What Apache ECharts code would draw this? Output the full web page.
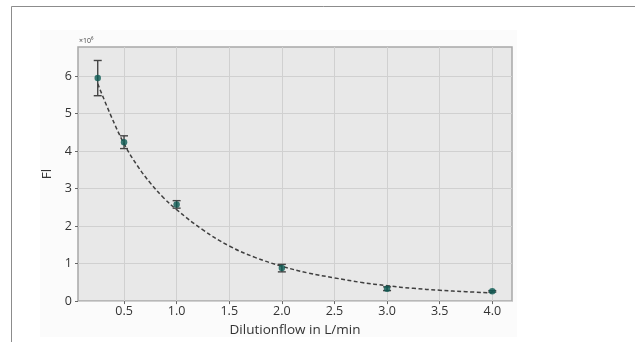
<!DOCTYPE html>
<html><head><meta charset="utf-8">
<script src="https://cdn.jsdelivr.net/npm/echarts@6/dist/echarts.min.js"></script>
<style>html,body{margin:0;padding:0;background:#fff}#c{width:635px;height:342px}</style>
</head><body><div id="c"></div>
<script>
// Measured points (x in L/min, FI in units of 1e6)
const flows = [0.25, 0.5, 1.0, 2.0, 3.0, 4.0];
const fiMean = [5.95, 4.24, 2.58, 0.88, 0.33, 0.26];
const fiErr = [0.47, 0.17, 0.10, 0.10, 0.05, 0.02];
// Fitted curve
const fitX = [0.25, 0.375, 0.5, 0.625, 0.75, 0.875, 1.0, 1.25, 1.5, 1.75, 2.0, 2.25, 2.5, 2.75, 3.0, 3.25, 3.5, 3.75, 4.0];
const fitY = [5.8, 4.95, 4.2, 3.62, 3.15, 2.76, 2.44, 1.9, 1.47, 1.16, 0.93, 0.75, 0.62, 0.5, 0.41, 0.34, 0.29, 0.25, 0.22];
const xTicks = [0.5, 1.0, 1.5, 2.0, 2.5, 3.0, 3.5, 4.0];
const yTicks = [0, 1, 2, 3, 4, 5, 6];

const chart = echarts.init(document.getElementById('c'), null, {renderer: 'canvas'});
const font = 'Open Sans';
const option = {
  animation: false,
  backgroundColor: '#fff',
  graphic: [
    {type: 'rect', shape: {x: 40, y: 30, width: 477, height: 307}, style: {fill: '#fbfbfb'}, z: -10, silent: true},
    {type: 'polyline', shape: {points: [[11.5, 342], [11.5, 6.5], [635, 6.5]]}, style: {stroke: '#8c8c8c', lineWidth: 1, fill: null}, z: 10},
    {type: 'text', left: 79, top: 37, style: {text: '×10⁶', fontFamily: font, fontSize: 7, fill: '#444'}}
  ],
  grid: {left: 78, top: 47, width: 434, height: 255, show: true, backgroundColor: '#e8e8e8', borderColor: '#a8a8a8', borderWidth: 1.5},
  xAxis: {
    type: 'value', min: 0.0625, max: 4.1875,
    name: 'Dilutionflow in L/min', nameLocation: 'middle', nameGap: 21,
    nameTextStyle: {fontFamily: font, fontSize: 13.5, color: '#333'},
    axisLine: {show: false},
    axisTick: {show: true, length: 3, lineStyle: {color: '#666'}, customValues: xTicks},
    axisLabel: {customValues: xTicks, fontFamily: font, fontSize: 12.5, color: '#333', margin: 4,
      formatter: v => v.toFixed(1)},
    splitLine: {show: true, lineStyle: {color: '#d0d0d0', width: 1}}
  },
  yAxis: {
    type: 'value', min: 0, max: 6.78,
    name: 'Fl', nameLocation: 'middle', nameGap: 20, nameRotate: 90,
    nameTextStyle: {fontFamily: font, fontSize: 13.5, color: '#333'},
    axisLine: {show: false},
    axisTick: {show: true, length: 3, lineStyle: {color: '#666'}, customValues: yTicks},
    axisLabel: {customValues: yTicks, fontFamily: font, fontSize: 12.5, color: '#333', margin: 6,
      formatter: v => String(v)},
    splitLine: {show: true, lineStyle: {color: '#d0d0d0', width: 1}}
  },
  series: [
    {
      type: 'line', data: fitX.map((x, i) => [x, fitY[i]]), smooth: 0.4, symbol: 'none',
      lineStyle: {color: '#3f3f3f', width: 1.5, type: [4, 2.5]}, z: 3
    },
    {
      type: 'custom', z: 4,
      data: flows.map((x, i) => [x, fiMean[i], fiErr[i]]),
      renderItem: function (params, api) {
        const x = api.value(0), y = api.value(1), e = api.value(2);
        const top = api.coord([x, y + e]);
        const bot = api.coord([x, y - e]);
        const cap = 4;
        return {
          type: 'group',
          children: [
            {type: 'line', shape: {x1: top[0], y1: top[1], x2: bot[0], y2: bot[1]}, style: {stroke: '#444', lineWidth: 1.4}},
            {type: 'line', shape: {x1: top[0] - cap, y1: top[1], x2: top[0] + cap, y2: top[1]}, style: {stroke: '#444', lineWidth: 1.4}},
            {type: 'line', shape: {x1: bot[0] - cap, y1: bot[1], x2: bot[0] + cap, y2: bot[1]}, style: {stroke: '#444', lineWidth: 1.4}}
          ]
        };
      }
    },
    {
      type: 'scatter', data: flows.map((x, i) => [x, fiMean[i]]), symbol: 'circle', symbolSize: 6.5,
      itemStyle: {color: '#0b5a52'}, z: 5
    }
  ]
};
chart.setOption(option);
</script></body></html>
